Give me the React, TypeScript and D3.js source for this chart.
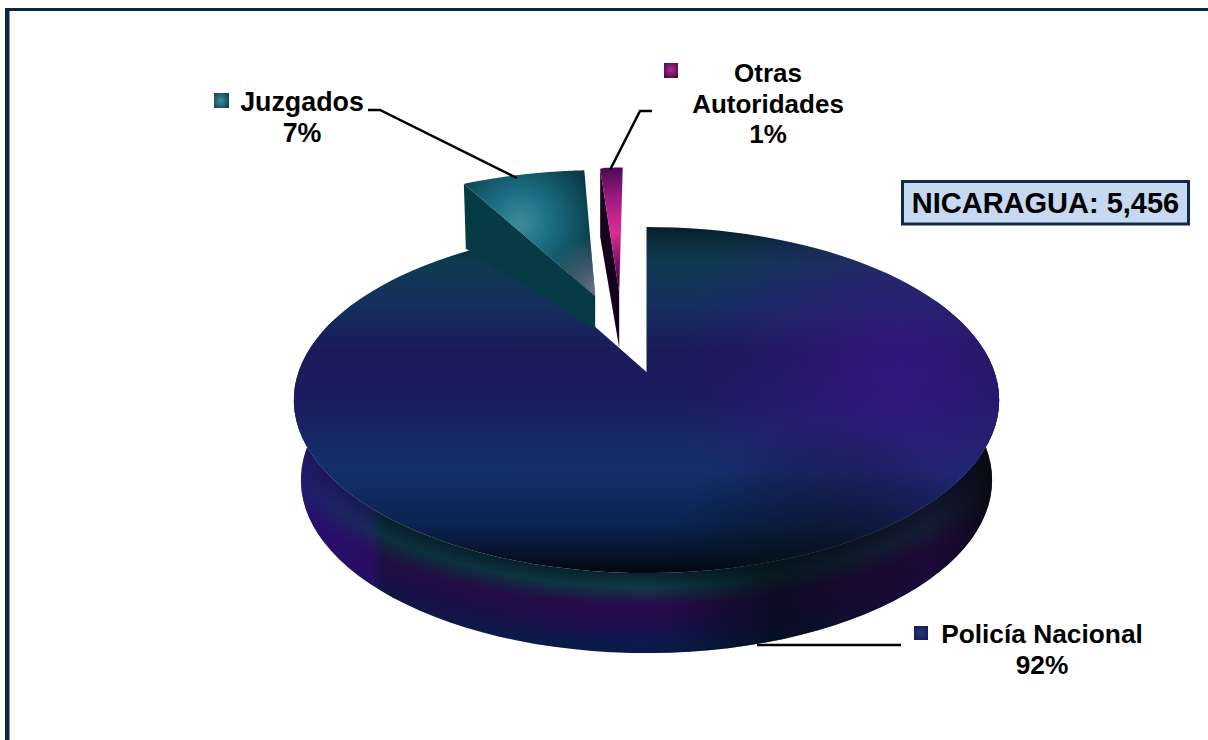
import React from "react";
import * as d3 from "d3";

const categories = ["Policía Nacional", "Juzgados", "Otras Autoridades"];
const values = [92, 7, 1];
const labelLines = [["Policía Nacional", "92%"], ["Juzgados", "7%"], ["Otras", "Autoridades", "1%"]];
const totalLabel = "NICARAGUA: 5,456";

const CX = 646.5, CY = 372, RX = 348, RY = 168.5, K = 0.162;
// explode offsets in the unit disc of the pie, one for each slice
const explode = [[0, 0], [-0.159, 0.487], [-0.085, 0.51]];

function project(u: number, v: number, drop = 0, shrink = 1) {
  const d = 1 + K * v;
  return [CX + (RX * shrink * u) / d, CY - (RY * v) / d + drop] as [number, number];
}
const line = d3.line();
const pie = d3.pie<number>().sort(null).startAngle(0).endAngle(2 * Math.PI);
const arcs = pie(values);

function rim(i: number, drop = 0, shrink = 1) {
  const a = arcs[i];
  const [du, dv] = explode[i];
  return d3.range(0, 121).map((t) => {
    const th = a.startAngle + ((a.endAngle - a.startAngle) * t) / 120;
    return project(Math.sin(th) + du, Math.cos(th) + dv, drop, shrink);
  });
}
function apex(i: number, drop = 0) {
  return project(explode[i][0], explode[i][1], drop);
}
const mainTop = rim(0);
const mainBottom = rim(0, 80, 0.98);
const topPath = line([apex(0), ...mainTop])! + "Z";
const wallPath = line([...mainBottom.filter((p) => p[1] > 300 + 80), ...mainTop.filter((p) => p[1] > 300).reverse()])! + "Z";

const jz = rim(1);
const jzTop = line([apex(1), ...jz])! + "Z";
const jzFirst = jz[0];
const jzWall = line([apex(1), jzFirst, [jzFirst[0] + 2, jzFirst[1] + 65], [apex(1)[0], apex(1)[1] + 33]])! + "Z";
const ot = rim(2);
const otFirst = ot[0];
const otCorner: [number, number] = [otFirst[0] - 5, otFirst[1] + 1];
const otTop = line([apex(2), otCorner, ...ot])! + "Z";
const otWall = line([apex(2), otCorner, [otCorner[0], otCorner[1] + 68], [apex(2)[0], apex(2)[1] + 55]])! + "Z";

const FONT = "'Liberation Sans', Arial, sans-serif";
const INK = "#000";

function Label({ lines, x, y, size = 26, lead = 31 }: { lines: string[]; x: number; y: number; size?: number; lead?: number }) {
  return (
    <text x={x} y={y} textAnchor="middle" fontFamily={FONT} fontWeight={700} fontSize={size} fill={INK}>
      {lines.map((l, i) => (
        <tspan key={l} x={x} dy={i === 0 ? 0 : lead}>{l}</tspan>
      ))}
    </text>
  );
}

export default function App() {
  return (
    <svg width={1208} height={740} style={{ position: "absolute", left: 0, top: 0, background: "#fff" }}>
      <defs>
        <linearGradient id="mainBase" gradientUnits="userSpaceOnUse" x1={0} y1={227} x2={0} y2={573}>
          <stop offset="0" stopColor="#06202c" />
          <stop offset="0.1" stopColor="#0f3a50" />
          <stop offset="0.22" stopColor="#15305f" />
          <stop offset="0.36" stopColor="#1a1a58" />
          <stop offset="0.5" stopColor="#1a1d60" />
          <stop offset="0.7" stopColor="#14306c" />
          <stop offset="0.86" stopColor="#0c2352" />
          <stop offset="0.96" stopColor="#051022" />
          <stop offset="1" stopColor="#02070e" />
        </linearGradient>
        <radialGradient id="mainPurple" gradientUnits="userSpaceOnUse" cx={900} cy={370} r={220}>
          <stop offset="0" stopColor="#3a1485" stopOpacity={0.75} />
          <stop offset="1" stopColor="#3a1485" stopOpacity={0} />
        </radialGradient>
        <radialGradient id="mainLow" gradientUnits="userSpaceOnUse" cx={830} cy={590} r={170}>
          <stop offset="0" stopColor="#04121c" stopOpacity={0.85} />
          <stop offset="1" stopColor="#04121c" stopOpacity={0} />
        </radialGradient>
        <radialGradient id="wallBands" gradientUnits="userSpaceOnUse" cx={0} cy={0} r={1}
          gradientTransform={`translate(${CX} 400) scale(530 260)`}>
          <stop offset="0.63" stopColor="#03151c" />
          <stop offset="0.667" stopColor="#07242e" />
          <stop offset="0.72" stopColor="#0e3a44" />
          <stop offset="0.79" stopColor="#2a0a4c" />
          <stop offset="0.87" stopColor="#1e0e50" />
          <stop offset="0.95" stopColor="#0a1c50" />
          <stop offset="1" stopColor="#08163c" />
        </radialGradient>
        <linearGradient id="wallShade" gradientUnits="userSpaceOnUse" x1={295} y1={0} x2={1000} y2={0}>
          <stop offset="0" stopColor="#2a1080" stopOpacity={0.7} />
          <stop offset="0.11" stopColor="#2a1080" stopOpacity={0.4} />
          <stop offset="0.125" stopColor="#04182a" stopOpacity={0.3} />
          <stop offset="0.5" stopColor="#04101c" stopOpacity={0} />
          <stop offset="0.68" stopColor="#030a10" stopOpacity={0.7} />
          <stop offset="0.9" stopColor="#180828" stopOpacity={0.6} />
          <stop offset="1" stopColor="#02080c" stopOpacity={0.95} />
        </linearGradient>
        <radialGradient id="jzFill" gradientUnits="userSpaceOnUse" cx={520} cy={222} r={85}>
          <stop offset="0" stopColor="#3f8c9a" />
          <stop offset="0.35" stopColor="#1c6f84" />
          <stop offset="0.75" stopColor="#0e4a58" />
          <stop offset="1" stopColor="#0a2e3a" />
        </radialGradient>
        <radialGradient id="jzGrey" gradientUnits="userSpaceOnUse" cx={598} cy={290} r={55}>
          <stop offset="0" stopColor="#6e7a90" stopOpacity={0.95} />
          <stop offset="1" stopColor="#6e7a90" stopOpacity={0} />
        </radialGradient>
        <linearGradient id="otFill" gradientUnits="userSpaceOnUse" x1={608} y1={168} x2={622} y2={292}>
          <stop offset="0" stopColor="#4a0a58" />
          <stop offset="0.25" stopColor="#a01c80" />
          <stop offset="0.52" stopColor="#dc2c98" />
          <stop offset="0.8" stopColor="#701060" />
          <stop offset="1" stopColor="#1a0020" />
        </linearGradient>
        <radialGradient id="swJz" cx="0.45" cy="0.5" r="0.7">
          <stop offset="0" stopColor="#3f8c9a" />
          <stop offset="1" stopColor="#0c3c48" />
        </radialGradient>
        <radialGradient id="swOt" cx="0.5" cy="0.45" r="0.65">
          <stop offset="0" stopColor="#b03088" />
          <stop offset="1" stopColor="#4a0648" />
        </radialGradient>
        <radialGradient id="swPn" cx="0.5" cy="0.5" r="0.7">
          <stop offset="0" stopColor="#243a80" />
          <stop offset="1" stopColor="#121a50" />
        </radialGradient>
        <clipPath id="mainClip"><path d={topPath} /></clipPath>
        <clipPath id="wallClip"><path d={wallPath} /></clipPath>
        <clipPath id="jzClip"><path d={jzTop} /></clipPath>
      </defs>

      {/* frame */}
      <rect x={5} y={8} width={1203} height={3} fill="#0f2747" />
      <rect x={5} y={8} width={4.5} height={732} fill="#0f2747" />

      {/* main slice */}
      <path d={wallPath} fill="url(#wallBands)" />
      <g clipPath="url(#wallClip)">
        <rect x={280} y={380} width={730} height={290} fill="url(#wallShade)" />
      </g>
      <path d={topPath} fill="url(#mainBase)" />
      <g clipPath="url(#mainClip)">
        <rect x={280} y={220} width={730} height={360} fill="url(#mainPurple)" />
        <rect x={280} y={220} width={730} height={360} fill="url(#mainLow)" />
      </g>

      {/* Juzgados */}
      <path d={jzWall} fill="#063a44" />
      <path d={jzTop} fill="url(#jzFill)" />
      <g clipPath="url(#jzClip)">
        <rect x={450} y={160} width={160} height={140} fill="url(#jzGrey)" />
      </g>

      {/* Otras */}
      <path d={otWall} fill="#17001e" />
      <path d={otTop} fill="url(#otFill)" />

      {/* leaders */}
      <g fill="none" stroke="#000" strokeWidth={2.5}>
        <polyline points="368,110 380,110 517,178" />
        <polyline points="652,111 640,111 610,170" />
        <polyline points="757,645 901,645" />
      </g>

      {/* legend keys */}
      <rect x={214} y={93} width={15} height={15} fill="url(#swJz)" />
      <rect x={664} y={63} width={14} height={15} fill="url(#swOt)" />
      <rect x={914} y={626} width={14} height={14} fill="url(#swPn)" />

      <Label lines={labelLines[1]} x={302} y={111} size={26.8} />
      <Label lines={labelLines[2]} x={768} y={82} lead={30.5} />
      <Label lines={labelLines[0]} x={1042} y={643} size={26.3} />

      <rect x={902.5} y={181.5} width={286} height={42.5} fill="#c6d9f1" stroke="#14294a" strokeWidth={3} />
      <text x={1045.5} y={213} textAnchor="middle" fontFamily={FONT} fontWeight={700} fontSize={29} fill={INK}>{totalLabel}</text>
    </svg>
  );
}
